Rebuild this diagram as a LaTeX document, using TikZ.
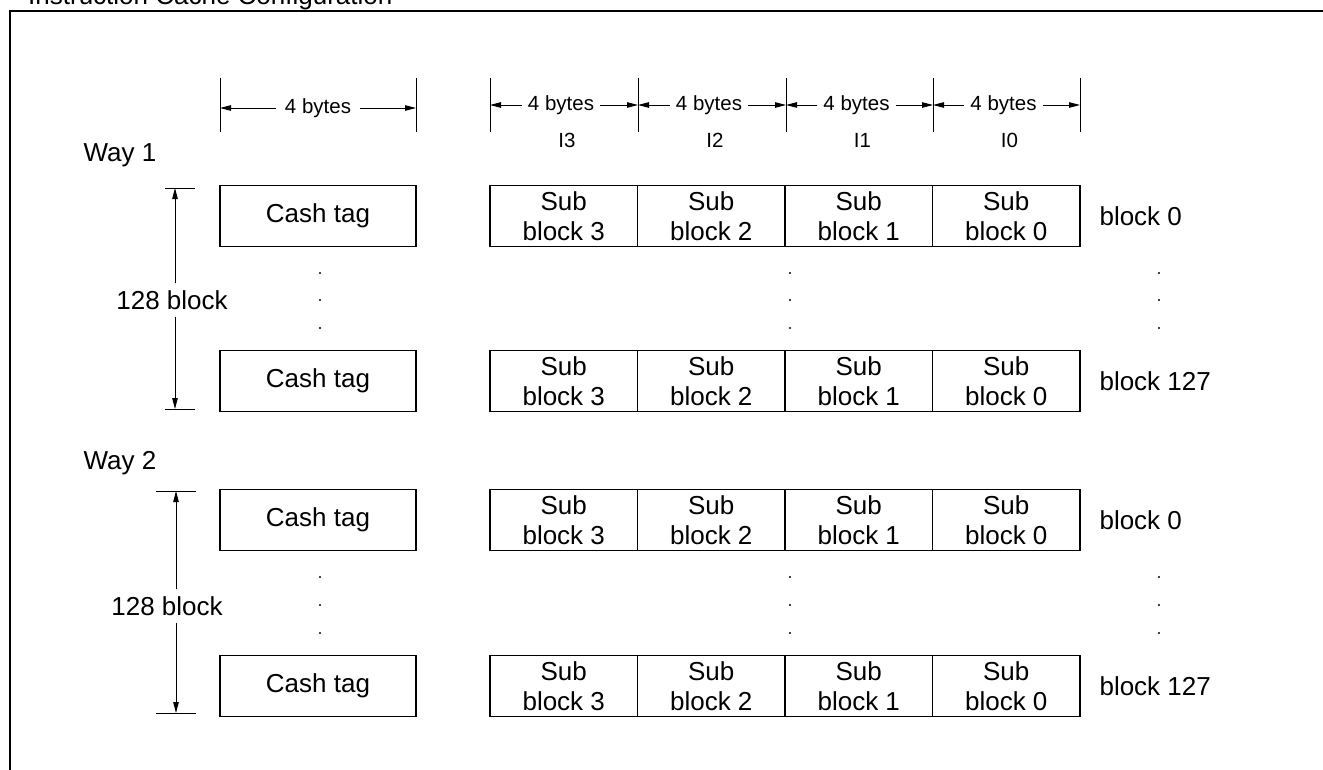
\documentclass[tikz,border=0pt]{standalone}
\usepackage{fontspec}
\setmainfont{Liberation Sans}
\usetikzlibrary{arrows.meta}
\begin{document}
\begin{tikzpicture}[x=1pt,y=-1pt,
  big/.style={font=\fontsize{26}{30}\selectfont},
  small/.style={font=\fontsize{20.5}{24}\selectfont},
  box/.style={draw,line width=1.8pt,minimum height=61pt,inner sep=0pt,big,align=center},
  dimarrow/.style={line width=0.9pt,-{Triangle[length=11pt,width=5.5pt]}},
  tickline/.style={line width=0.9pt},
  dotnode/.style={circle,fill,inner sep=0pt,minimum size=2.3pt}]
\useasboundingbox (0,0) rectangle (1323,769);
% frame and title
\draw[line width=2.6pt] (10,800) -- (10,11) -- (1340,11);
\node[big,anchor=base west,inner sep=0pt] (title) at (28,4) {Instruction Cache Configuration};
% boxes
\foreach \r/\y in {a/216,b/381,c/520,d/686}{
  \node[box,minimum width=196pt] (tag\r) at (318,\y) {Cash tag};
  \node[box,minimum width=147.5pt] (s\r3) at (563.75,\y) {Sub\\block 3};
  \node[box,minimum width=147.5pt] (s\r2) at (711.25,\y) {Sub\\block 2};
  \node[box,minimum width=147.5pt] (s\r1) at (858.75,\y) {Sub\\block 1};
  \node[box,minimum width=147.5pt] (s\r0) at (1006.25,\y) {Sub\\block 0};
}
\node[big,anchor=west] (la) at (1096,216) {block 0};
\node[big,anchor=west] (lb) at (1096,381) {block 127};
\node[big,anchor=west] (lc) at (1096,520) {block 0};
\node[big,anchor=west] (ld) at (1096,686) {block 127};
% way labels
\node[big,anchor=west] (w1) at (80,155) {Way 1};
\node[big,anchor=west] (w2) at (80,463) {Way 2};
% dots
\foreach \y in {273,300,328,577,605,633}{
  \node[dotnode] at (320,\y) {};
  \node[dotnode] at (790,\y) {};
  \node[dotnode] at (1159,\y) {};
}
% top dimension over cash tag
\draw[tickline] (220,78) -- (220,132);
\draw[tickline] (416,78) -- (416,132);
\coordinate (c0l) at (220,108);
\coordinate (c0r) at (416,108);
\node[small,inner xsep=9pt] (d0) at (318,108) {4 bytes};
\draw[dimarrow] (d0.west) -- (c0l);
\draw[dimarrow] (d0.east) -- (c0r);
% top dimensions over sub blocks
\foreach \x in {490,638,786,933,1080}{
  \draw[tickline] (\x,78) -- (\x,132);
}
\foreach \i/\xl/\xr/\lab in {3/490/638/I3,2/638/786/I2,1/786/933/I1,0/933/1080/I0}{
  \coordinate (l\i) at (\xl,105);
  \coordinate (r\i) at (\xr,105);
  \node[small,inner xsep=6pt] (b\i) at ({(\xl+\xr)/2-3},105) {4 bytes};
  \draw[dimarrow] (b\i.west) -- (l\i);
  \draw[dimarrow] (b\i.east) -- (r\i);
  \node[small] (i\i) at ({(\xl+\xr)/2+3},140) {\lab};
}
% vertical dims
\coordinate (v1t) at (175,188);
\coordinate (v1b) at (175,409);
\draw[tickline] (165,188) -- (195,188);
\draw[tickline] (165,409) -- (195,409);
\node[big,inner ysep=7pt,inner xsep=0pt] (n1) at (172,300) {128 block};
\draw[dimarrow] (n1.north -| v1t) -- (v1t);
\draw[dimarrow] (n1.south -| v1b) -- (v1b);
\coordinate (v2t) at (176,491);
\coordinate (v2b) at (176,713);
\draw[tickline] (156,491) -- (196,491);
\draw[tickline] (156,713) -- (196,713);
\node[big,inner ysep=7pt,inner xsep=0pt] (n2) at (167,606) {128 block};
\draw[dimarrow] (n2.north -| v2t) -- (v2t);
\draw[dimarrow] (n2.south -| v2b) -- (v2b);
\end{tikzpicture}
\end{document}
